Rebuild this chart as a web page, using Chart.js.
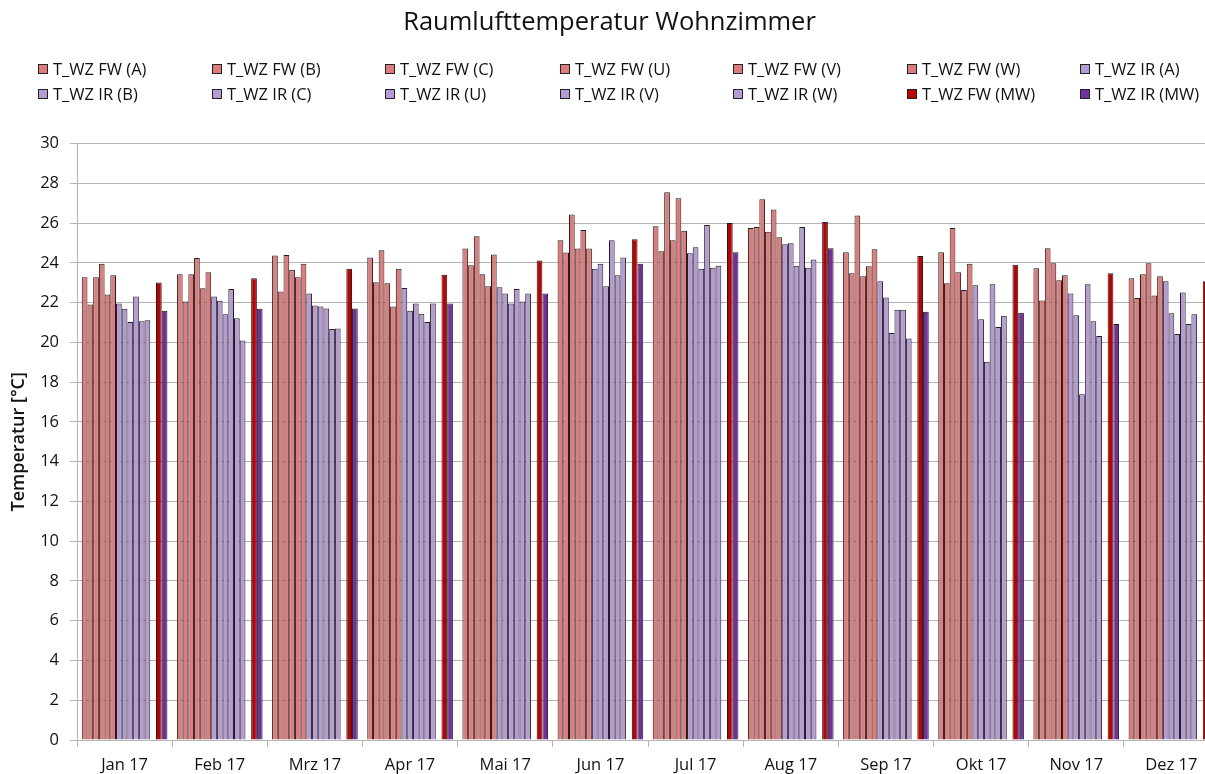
<!DOCTYPE html>
<html><head><meta charset="utf-8">
<script src="https://cdn.jsdelivr.net/npm/chart.js@4"></script>
<style>
html,body{margin:0;padding:0;background:#fff;overflow:hidden;width:1205px;height:774px;position:relative}
#wrap{position:absolute;left:0;top:0;width:1228px;height:774px}
#legend{position:absolute;left:0;top:0;width:1205px;height:110px;font-family:"Open Sans",sans-serif;font-size:16.5px;color:#111;z-index:2}
.li{position:absolute;display:flex;align-items:center;white-space:nowrap;height:20px;line-height:20px}
.li .b{width:8px;height:8px;border:1px solid #222;margin-right:5px;flex:none}
</style></head>
<body>
<div id="wrap"><canvas id="c" width="1228" height="774"></canvas></div>
<div id="legend"></div>
<script>
const months = ["Jan 17","Feb 17","Mrz 17","Apr 17","Mai 17","Jun 17","Jul 17","Aug 17","Sep 17","Okt 17","Nov 17","Dez 17"];
const yTicks = [0,2,4,6,8,10,12,14,16,18,20,22,24,26,28,30];

const fwA = [23.28,23.43,24.37,24.27,24.72,25.14,25.84,25.76,24.54,24.54,23.73,23.23];
const fwB = [21.91,22.06,22.56,23.03,23.88,24.52,24.59,25.81,23.48,22.98,22.11,22.23];
const fwC = [23.28,23.43,24.40,24.64,25.34,26.43,27.55,27.20,26.38,25.76,24.74,23.43];
const fwU = [23.95,24.25,23.65,22.98,23.43,24.72,25.14,25.56,23.33,23.53,23.98,23.98];
const fwV = [22.41,22.73,23.28,21.81,22.83,25.66,27.25,26.69,23.83,22.63,23.13,22.36];
const fwW = [23.38,23.53,23.95,23.70,24.42,24.72,25.61,25.29,24.69,23.95,23.38,23.33];
const irA = [21.96,22.31,22.46,22.74,22.78,23.70,24.49,24.94,23.08,22.88,22.46,23.08];
const irB = [21.69,22.09,21.86,21.59,22.46,23.95,24.79,24.99,22.26,21.17,21.37,21.47];
const irC = [21.02,21.42,21.81,21.96,21.96,22.83,23.70,23.85,20.47,19.03,17.39,20.42];
const irU = [22.31,22.68,21.71,21.44,22.68,25.14,25.91,25.81,21.64,22.93,22.93,22.51];
const irV = [21.07,21.22,20.67,21.02,22.06,23.38,23.75,23.75,21.64,20.77,21.07,20.92];
const irW = [21.12,20.10,20.70,21.96,22.46,24.27,23.85,24.17,20.20,21.34,20.32,21.42];
const fwMW = [23.01,23.23,23.70,23.40,24.12,25.19,26.01,26.06,24.35,23.90,23.48,23.08];
const irMW = [21.59,21.69,21.71,21.96,22.46,23.95,24.54,24.74,21.54,21.49,20.92,21.50];
const emptySlot = months.map(() => null);

const FW = '#E07B7B', IR = '#B59AD3', FWM = '#C00000', IRM = '#7030A0';
const series = [
  ['T_WZ FW (A)', fwA, FW], ['T_WZ FW (B)', fwB, FW], ['T_WZ FW (C)', fwC, FW],
  ['T_WZ FW (U)', fwU, FW], ['T_WZ FW (V)', fwV, FW], ['T_WZ FW (W)', fwW, FW],
  ['T_WZ IR (A)', irA, IR], ['T_WZ IR (B)', irB, IR], ['T_WZ IR (C)', irC, IR],
  ['T_WZ IR (U)', irU, IR], ['T_WZ IR (V)', irV, IR], ['T_WZ IR (W)', irW, IR],
  ['', emptySlot, 'rgba(0,0,0,0)'],
  ['T_WZ FW (MW)', fwMW, FWM], ['T_WZ IR (MW)', irMW, IRM]
];

const datasets = series.map(([label, data, color]) => ({
  label, data, backgroundColor: color, borderColor: '#1e1e1e', borderWidth: 1,
  categoryPercentage: 0.9, barPercentage: 1.0
}));

// HTML legend
const legendOrder = series.filter(s => s[0] !== '');
const colX = [38,212,385,560,733,907,1080];
const rowY = [68.5, 94];
const lg = document.getElementById('legend');
legendOrder.forEach((s, i) => {
  const d = document.createElement('div');
  d.className = 'li';
  d.style.left = colX[i % 7] + 'px';
  d.style.top = (rowY[Math.floor(i / 7)] - 10) + 'px';
  const b = document.createElement('span'); b.className = 'b'; b.style.background = s[2];
  const t = document.createElement('span'); t.textContent = s[0];
  d.appendChild(b); d.appendChild(t); lg.appendChild(d);
});

const gridCol = '#B4B4B4';
new Chart(document.getElementById('c'), {
  type: 'bar',
  data: { labels: months, datasets },
  options: {
    responsive: false, animation: false,
    layout: { padding: { left: 0, right: 9, top: 0, bottom: 0 } },
    plugins: {
      legend: { display: false },
      tooltip: { enabled: false },
      title: {
        display: true, text: 'Raumlufttemperatur Wohnzimmer', color: '#111',
        font: { family: 'Open Sans', size: 25.5, weight: 'normal' },
        padding: { top: 7, bottom: 106 }
      }
    },
    scales: {
      x: {
        offset: true,
        grid: { display: true, drawOnChartArea: false, drawTicks: true, tickLength: 7, offset: true, color: gridCol },
        border: { display: true, color: gridCol },
        ticks: { color: '#111', font: { family: 'Open Sans', size: 16.5 }, padding: 8, maxRotation: 0 },
        afterFit: s => { s.height = 34; }
      },
      y: {
        min: 0, max: 30,
        afterBuildTicks: s => { s.ticks = yTicks.map(v => ({ value: v })); },
        grid: { color: gridCol, tickLength: 7, drawTicks: true },
        border: { display: true, color: gridCol },
        ticks: { color: '#111', font: { family: 'Open Sans', size: 16.5 }, padding: 11 },
        title: { display: true, text: 'Temperatur [°C]', color: '#111', font: { family: 'Open Sans', size: 18, weight: '600' }, padding: { top: 8, bottom: 0 } },
        afterFit: s => { s.width = 77; }
      }
    }
  }
});
</script>
</body></html>
